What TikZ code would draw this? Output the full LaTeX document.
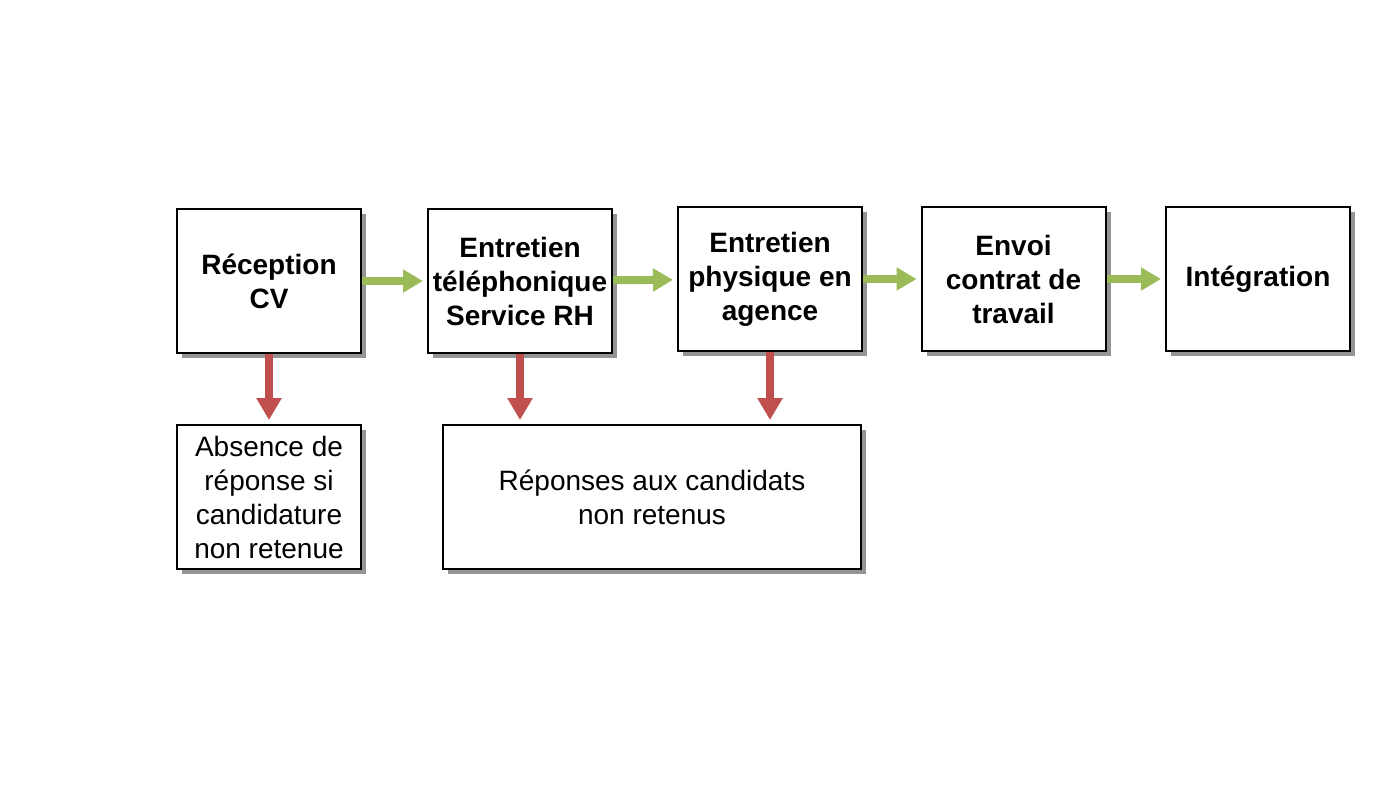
\documentclass[tikz,border=0pt]{standalone}
\usepackage{fontspec}
\setmainfont{Liberation Sans}
\usetikzlibrary{arrows.meta,shadows}

\begin{document}
\begin{tikzpicture}[x=0.5pt, y=-0.5pt,
    etape/.style={shape=rectangle, draw=black, line width=1pt, fill=white,
        minimum width=92pt, minimum height=72pt, inner sep=1pt,
        align=center, font=\fontsize{14pt}{17pt}\selectfont\bfseries,
        drop shadow={shadow xshift=2.5pt, shadow yshift=-2.5pt, fill=black!60, opacity=0.7}},
    refus/.style={etape, font=\fontsize{14pt}{17pt}\selectfont},
    suite/.style={-{Triangle[length=10pt,width=11pt]}, line width=4pt, draw=vert, shorten >=2pt},
    rejet/.style={-{Triangle[length=11pt,width=12pt]}, line width=4pt, draw=rouge, shorten >=2pt}]
    \definecolor{vert}{HTML}{9BBB59}
    \definecolor{rouge}{HTML}{C0504D}
    \useasboundingbox (0,0) rectangle (1400,800);
    \node[etape] (cv) at (269,281) {Réception\\CV};
    \node[etape] (tel) at (520,281) {Entretien\\téléphonique\\Service RH};
    \node[etape] (agence) at (770,279) {Entretien\\physique en\\agence};
    \node[etape] (contrat) at (1013.5,279) {Envoi\\contrat de\\travail};
    \node[etape] (integ) at (1258,279) {Intégration};
    \node[refus] (absence) at (269,497) {Absence de\\réponse si\\candidature\\non retenue};
    \node[refus, minimum width=209pt] (reponses) at (652,497) {Réponses aux candidats\\non retenus};
    \draw[suite] (cv) -- (tel);
    \draw[suite] (tel) -- (agence);
    \draw[suite] (agence) -- (contrat);
    \draw[suite] (contrat) -- (integ);
    \draw[rejet] (cv) -- (absence);
    \draw[rejet] (tel.south) -- (tel.south |- reponses.north);
    \draw[rejet] (agence.south) -- (agence.south |- reponses.north);
\end{tikzpicture}
\end{document}
